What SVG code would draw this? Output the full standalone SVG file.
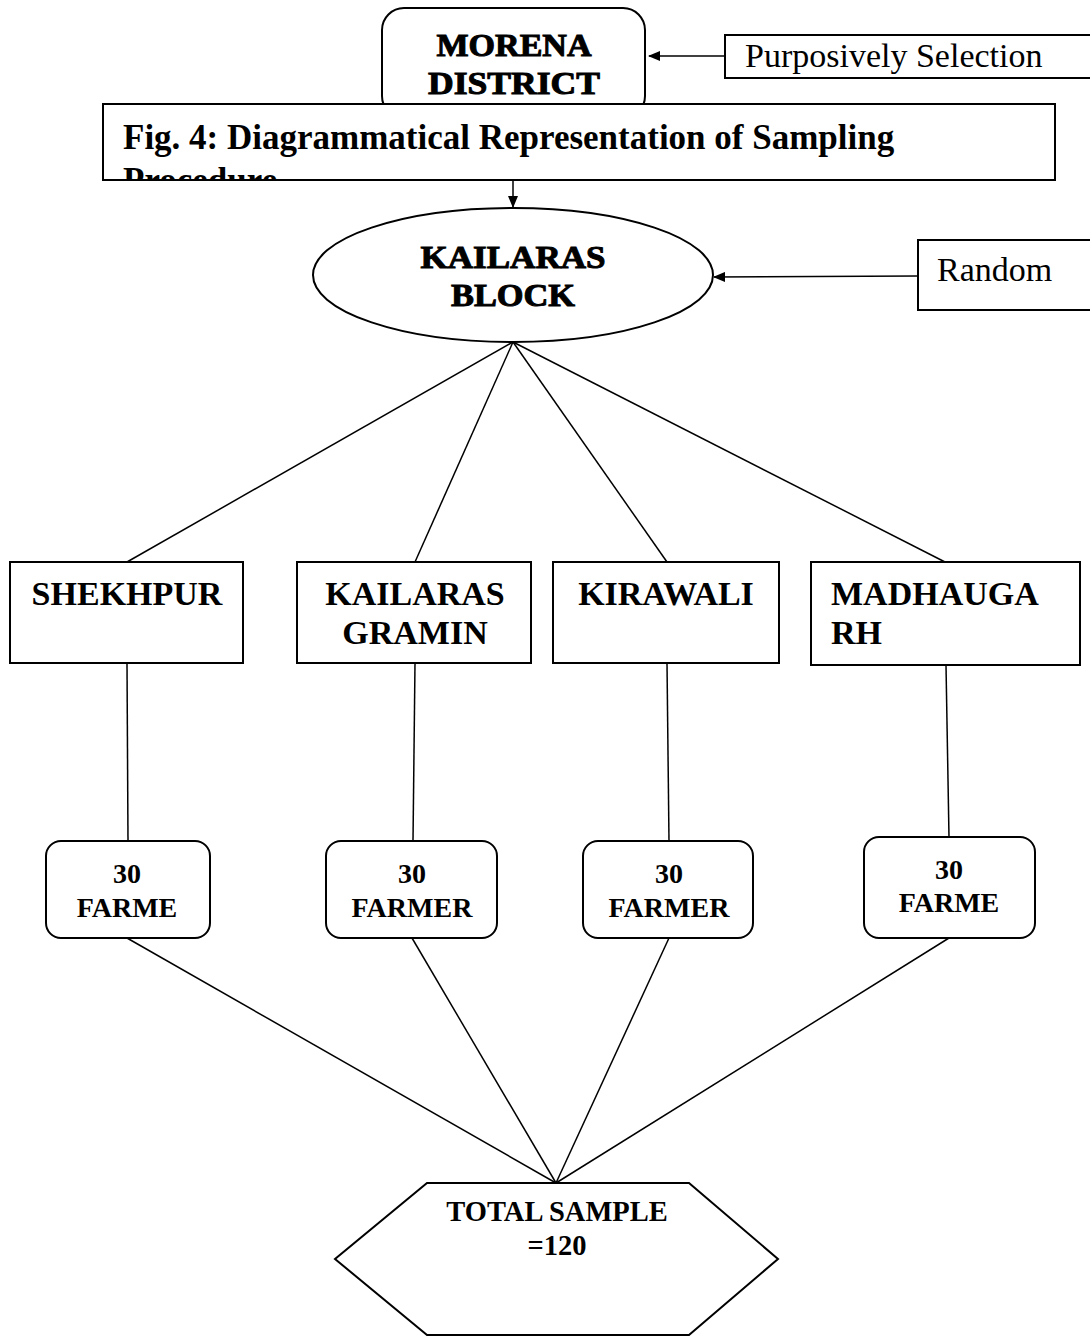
<svg xmlns="http://www.w3.org/2000/svg" width="1090" height="1336" viewBox="0 0 1090 1336">
<style>
.box{fill:#fff;stroke:#000;stroke-width:2}
.ln{stroke:#000;stroke-width:1.5;fill:none}
.t{font-family:"Liberation Serif","Times New Roman",serif;fill:#000}
.b{font-weight:bold}
.heavy{font-weight:bold;stroke:#000;stroke-width:1}
.c{text-anchor:middle}
</style>
<defs>
<marker id="ah" markerWidth="12" markerHeight="10" refX="11" refY="5" orient="auto" markerUnits="userSpaceOnUse">
<path d="M0,0 L12,5 L0,10 z" fill="#000"/>
</marker>
<clipPath id="titleclip"><rect x="104" y="105" width="950" height="74"/></clipPath>
</defs>
<rect width="1090" height="1336" fill="#fff"/>
<g id="connectors">
<line class="ln" x1="725" y1="56" x2="649" y2="56" marker-end="url(#ah)"/>
<line class="ln" x1="513" y1="180" x2="513" y2="207" marker-end="url(#ah)"/>
<line class="ln" x1="918" y1="276" x2="714" y2="277" marker-end="url(#ah)"/>
<line class="ln" x1="513" y1="342" x2="127" y2="562"/>
<line class="ln" x1="513" y1="342" x2="415" y2="562"/>
<line class="ln" x1="513" y1="342" x2="667" y2="562"/>
<line class="ln" x1="513" y1="342" x2="945" y2="562"/>
<line class="ln" x1="127" y1="663" x2="128" y2="841"/>
<line class="ln" x1="415" y1="663" x2="413" y2="841"/>
<line class="ln" x1="667" y1="663" x2="669" y2="841"/>
<line class="ln" x1="946" y1="665" x2="949" y2="837"/>
<line class="ln" x1="127" y1="938" x2="556" y2="1183"/>
<line class="ln" x1="412" y1="938" x2="556" y2="1183"/>
<line class="ln" x1="669" y1="938" x2="556" y2="1183"/>
<line class="ln" x1="949" y1="938" x2="556" y2="1183"/>
</g>
<g id="morena">
<rect class="box" x="382" y="8" width="263" height="110" rx="22"/>
<text class="t heavy c" x="514" y="56" font-size="32" textLength="155" lengthAdjust="spacingAndGlyphs">MORENA</text>
<text class="t heavy c" x="514" y="94" font-size="32" textLength="172" lengthAdjust="spacingAndGlyphs">DISTRICT</text>
</g>
<g id="purposive">
<rect class="box" x="725" y="35" width="375" height="43"/>
<text class="t" x="745" y="67" font-size="34">Purposively Selection</text>
</g>
<g id="title">
<rect class="box" x="103" y="104" width="952" height="76"/>
<g clip-path="url(#titleclip)">
<text class="t b" x="123" y="149" font-size="35">Fig. 4: Diagrammatical Representation of Sampling</text>
<text class="t b" x="123" y="192" font-size="35">Procedure</text>
</g>
</g>
<g id="block">
<ellipse class="box" cx="513" cy="275" rx="200" ry="67"/>
<text class="t heavy c" x="513" y="268" font-size="32" textLength="185" lengthAdjust="spacingAndGlyphs">KAILARAS</text>
<text class="t heavy c" x="513" y="306" font-size="32" textLength="124" lengthAdjust="spacingAndGlyphs">BLOCK</text>
</g>
<g id="random">
<rect class="box" x="918" y="240" width="180" height="70"/>
<text class="t" x="937" y="281" font-size="34">Random</text>
</g>
<g id="shekhpur">
<rect class="box" x="10" y="562" width="233" height="101"/>
<text class="t b c" x="127" y="605" font-size="34">SHEKHPUR</text>
</g>
<g id="gramin">
<rect class="box" x="297" y="562" width="234" height="101"/>
<text class="t b c" x="415" y="605" font-size="34">KAILARAS</text>
<text class="t b c" x="415" y="644" font-size="34">GRAMIN</text>
</g>
<g id="kirawali">
<rect class="box" x="553" y="562" width="226" height="101"/>
<text class="t b c" x="666" y="605" font-size="34">KIRAWALI</text>
</g>
<g id="madhaugarh">
<rect class="box" x="811" y="562" width="269" height="103"/>
<text class="t b" x="831" y="605" font-size="34">MADHAUGA</text>
<text class="t b" x="831" y="644" font-size="34">RH</text>
</g>
<g id="f1">
<rect class="box" x="46" y="841" width="164" height="97" rx="15"/>
<text class="t b c" x="127" y="883" font-size="28">30</text>
<text class="t b c" x="127" y="917" font-size="28">FARME</text>
</g>
<g id="f2">
<rect class="box" x="326" y="841" width="171" height="97" rx="15"/>
<text class="t b c" x="412" y="883" font-size="28">30</text>
<text class="t b c" x="412" y="917" font-size="28">FARMER</text>
</g>
<g id="f3">
<rect class="box" x="583" y="841" width="170" height="97" rx="15"/>
<text class="t b c" x="669" y="883" font-size="28">30</text>
<text class="t b c" x="669" y="917" font-size="28">FARMER</text>
</g>
<g id="f4">
<rect class="box" x="864" y="837" width="171" height="101" rx="15"/>
<text class="t b c" x="949" y="879" font-size="28">30</text>
<text class="t b c" x="949" y="912" font-size="28">FARME</text>
</g>
<g id="total">
<polygon class="box" points="427,1183 689,1183 778,1259 689,1335 427,1335 335,1259"/>
<text class="t b c" x="557" y="1221" font-size="28.5">TOTAL SAMPLE</text>
<text class="t b c" x="557" y="1255" font-size="28.5">=120</text>
</g>
</svg>
